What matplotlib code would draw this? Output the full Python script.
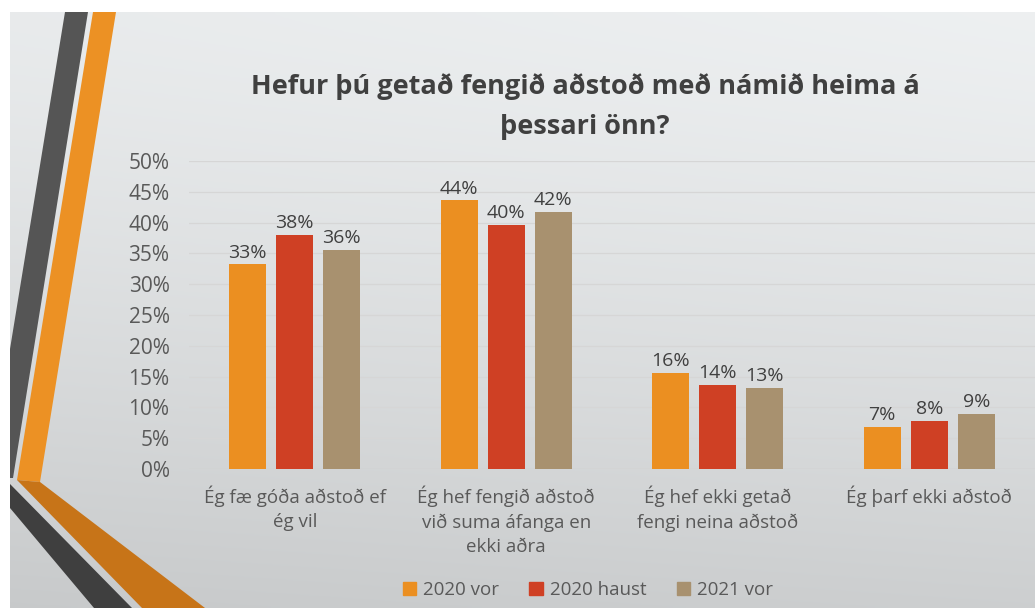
import numpy as np
import matplotlib.pyplot as plt
from matplotlib.patches import Polygon, Patch

plt.rcParams['font.family'] = ['Open Sans', 'DejaVu Sans']

# gögn
flokkar = ["Ég fæ góða aðstoð ef\nég vil",
           "Ég hef fengið aðstoð\nvið suma áfanga en\nekki aðra",
           "Ég hef ekki getað\nfengi neina aðstoð",
           "Ég þarf ekki aðstoð"]
vor_2020 = [33.2, 43.6, 15.6, 6.8]
haust_2020 = [38.0, 39.6, 13.7, 7.8]
vor_2021 = [35.6, 41.7, 13.2, 8.9]
rodir = ["2020 vor", "2020 haust", "2021 vor"]
litir = ["#EB8F21", "#CF4024", "#A8916F"]
yticks = [0, 5, 10, 15, 20, 25, 30, 35, 40, 45, 50]

W, H = 1035, 608
fig = plt.figure(figsize=(W / 100, H / 100), dpi=100, facecolor="white")

# bakgrunnur glærunnar (halli + skrautrendur)
bg = fig.add_axes([0, 0, 1, 1])
bg.set_xlim(0, W)
bg.set_ylim(H, 0)
bg.axis("off")
gy = np.linspace(0, 1, 200)[:, None]
gx = np.linspace(0, 1, 200)[None, :]
grad = 0.925 - 0.13 * gy ** 1.3 + 0.02 * gx
grad = np.clip(grad, 0, 1)
img = np.dstack([grad * 0.985, grad * 0.995, grad * 1.0])
bg.imshow(img, extent=(10, W, H, 12), aspect="auto", zorder=0)
for pts, c in [
    ([(65, 12), (88, 12), (13, 478), (10, 478), (10, 349)], "#555555"),
    ([(93, 12), (116, 12), (40, 482), (17, 480)], "#EC9124"),
    ([(17, 480), (40, 482), (205, 608), (142, 608)], "#C77418"),
    ([(10, 484), (132, 608), (94, 608), (10, 508)], "#3F3F3F"),
]:
    bg.add_patch(Polygon(pts, closed=True, color=c, lw=0, zorder=1))

# súlurit
ax = fig.add_axes([189 / W, 1 - 469 / H, (W - 189) / W, (469 - 161) / H])
ax.patch.set_alpha(0)
x = np.arange(len(flokkar))
bw = 0.175
off = 0.222
for i, (vals, nm, c) in enumerate(zip([vor_2020, haust_2020, vor_2021], rodir, litir)):
    b = ax.bar(x + (i - 1) * off, vals, bw, color=c, label=nm, zorder=3)
    ax.bar_label(b, labels=[f"{v:.0f}%" for v in vals], padding=2,
                 fontsize=14, color="#404040")

ax.set_xlim(-0.5, 3.5)
ax.set_ylim(0, 50)
ax.set_yticks(yticks)
ax.set_yticklabels([f"{t}%" for t in yticks], fontsize=15, color="#595959")
ax.set_xticks(x)
ax.set_xticklabels(flokkar, fontsize=13.5, color="#595959", linespacing=1.45)
ax.tick_params(axis="both", length=0)
ax.tick_params(axis="y", pad=14)
ax.tick_params(axis="x", pad=12)
ax.grid(axis="y", color="#d6d6d6", lw=0.9, zorder=0)
for s in ax.spines.values():
    s.set_visible(False)
ax.axhline(0, color="#cfcfcf", lw=1, zorder=2)

fig.text(585 / W, 1 - 87 / H, "Hefur þú getað fengið aðstoð með námið heima á",
         ha="center", va="center", fontsize=19.5, fontweight="bold", color="#404040")
fig.text(585 / W, 1 - 127 / H, "þessari önn?",
         ha="center", va="center", fontsize=19.5, fontweight="bold", color="#404040")

handles = [Patch(color=c) for c in litir]
fig.legend(handles, rodir, loc="center", bbox_to_anchor=(588 / W, 1 - 590 / H),
           ncol=3, frameon=False, fontsize=13.5, handlelength=0.7, handleheight=0.7,
           handletextpad=0.4, columnspacing=1.6, labelcolor="#595959")

fig.savefig("out.png", dpi=100)
